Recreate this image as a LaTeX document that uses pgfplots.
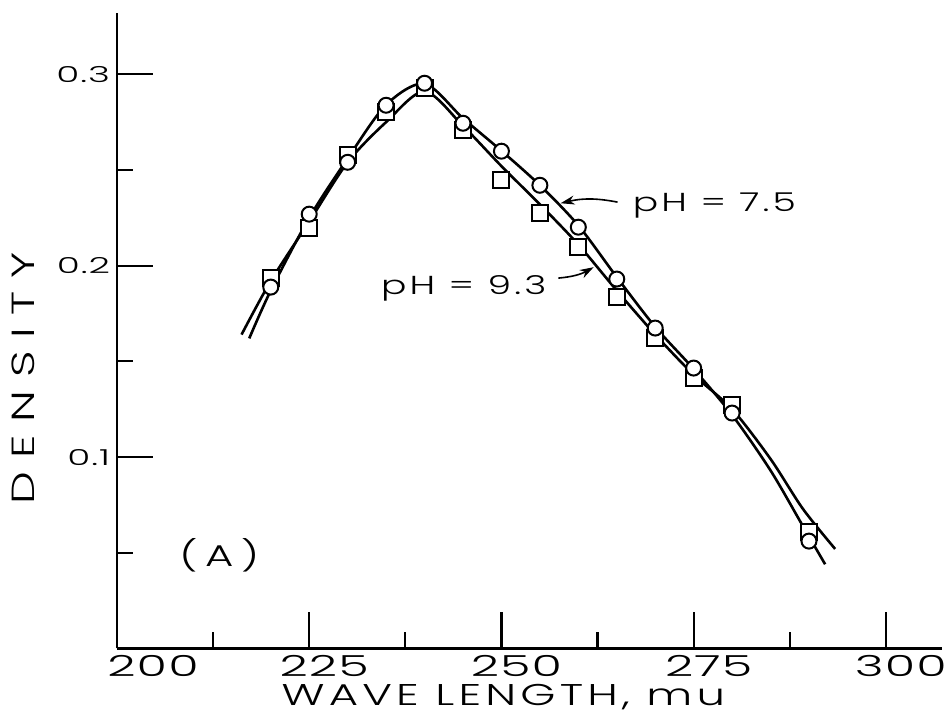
\documentclass[border=0pt]{standalone}
\usepackage{fontspec}
\setmainfont{Poppins}
\newfontfamily\lett[FakeStretch=1.45,LetterSpace=12]{Poppins Light}
\newfontfamily\lettlab[FakeStretch=1.5,LetterSpace=14]{Poppins Light}
\newfontfamily\lettnum[FakeStretch=1.7,LetterSpace=4]{Poppins Light}
\newfontfamily\lettwide[FakeStretch=1.45,LetterSpace=25]{Poppins Light}
\newfontfamily\lettvert[FakeStretch=1.45,LetterSpace=40]{Poppins Light}
\usepackage{pgfplots}
\pgfplotsset{compat=1.18}
\usetikzlibrary{arrows.meta}

% measured absorbance, pH 7.5 (circles)
\pgfplotstableread{
wl d
220 0.1888
225 0.2269
230 0.2540
235 0.2838
240 0.2953
245 0.2744
250 0.2598
255 0.2420
260 0.2201
265 0.1930
270 0.1674
275 0.1465
280 0.1230
290 0.0561
}\phseven

% measured absorbance, pH 9.3 (squares)
\pgfplotstableread{
wl d
220 0.1935
225 0.2196
230 0.2577
235 0.2802
240 0.2927
245 0.2708
250 0.2446
255 0.2274
260 0.2097
265 0.1836
270 0.1621
275 0.1413
280 0.1271
290 0.0608
}\phnine

% hand-drawn fitted curves
\pgfplotstableread{
wl d
217.2 0.162
220 0.187
225 0.225
230 0.256
235 0.284
240 0.295
245 0.277
250 0.260
255 0.242
260 0.221
265 0.194
270 0.168
275 0.146
280 0.122
285 0.093
289.2 0.064
292.1 0.044
}\fitseven

\pgfplotstableread{
wl d
216.2 0.164
220 0.192
225 0.223
230 0.254
235 0.275
240 0.291
245 0.273
250 0.252
255 0.232
260 0.211
265 0.187
270 0.164
275 0.143
280 0.125
285 0.099
289.2 0.073
293.4 0.052
}\fitnine

\begin{document}
\begin{tikzpicture}
\begin{axis}[
  scale only axis, width=412.5pt, height=317.75pt,
  xmin=200, xmax=307.3, ymin=0, ymax=0.332,
  axis lines=left,
  axis line style={line width=1.2pt,-},
  xtick={225,250,275,300}, xticklabels={225,250,275,300},
  minor xtick={212.5,237.5,262.5,287.5},
  ytick={0.1,0.2,0.3}, yticklabels={0.1,0.2,0.3},
  minor ytick={0.05,0.15,0.25},
  tick align=inside,
  major tick length=18pt, minor tick length=8pt,
  every tick/.style={line width=1.1pt,black},
  xticklabel style={font=\lettnum\fontsize{14.5}{14.5}\selectfont, xshift=7.5pt},
  yticklabel style={font=\lettnum\fontsize{11}{11}\selectfont},
  clip=false,
]
\coordinate (O) at (rel axis cs:0,0);
\coordinate (T) at (rel axis cs:1,1);

\addplot[smooth, line width=1.3pt, black] table[x=wl,y=d]{\fitseven};
\addplot[smooth, line width=1.3pt, black] table[x=wl,y=d]{\fitnine};

\addplot[only marks, mark=square*, mark size=4pt,
  mark options={fill=white, draw=black, line width=1pt}] table[x=wl,y=d]{\phnine};
\addplot[only marks, mark=*, mark size=3.75pt,
  mark options={fill=white, draw=black, line width=1pt}] table[x=wl,y=d]{\phseven};

\node[font=\lettnum\fontsize{14.5}{14.5}\selectfont, anchor=north, inner sep=0.333em]
  at ([xshift=18pt]axis cs:200,0) {200};
\node[font=\lettlab\fontsize{15}{15}\selectfont]
  at ([xshift=1pt,yshift=-24.25pt]axis cs:250,0) {WAVE LENGTH, mu};
\node[font=\lettvert\fontsize{16}{16}\selectfont, rotate=90]
  at ([xshift=-47pt]axis cs:200,0.1413) {DENSITY};
\node[font=\lettwide\fontsize{15}{15}\selectfont] at (axis cs:213.3,0.0488) {(A)};

\node[font=\lett\fontsize{13}{13}\selectfont] at (axis cs:277.7,0.2316) {pH = 7.5};
\node[font=\lett\fontsize{13}{13}\selectfont] at (axis cs:245.1,0.1882) {pH = 9.3};
\draw[-{Stealth[length=7pt,width=4.5pt]}, line width=0.8pt]
  (axis cs:265.1,0.2332) to[bend right=12] (axis cs:257.7,0.2326);
\draw[-{Stealth[length=7pt,width=4.5pt]}, line width=0.8pt]
  (axis cs:257.4,0.1935) to[bend right=12] (axis cs:262.0,0.1992);
\end{axis}
\pgfresetboundingbox
\path[use as bounding box] ([shift={(-58.5pt,-33.75pt)}]O) rectangle ([shift={(3.5pt,6.5pt)}]T);
\end{tikzpicture}
\end{document}
